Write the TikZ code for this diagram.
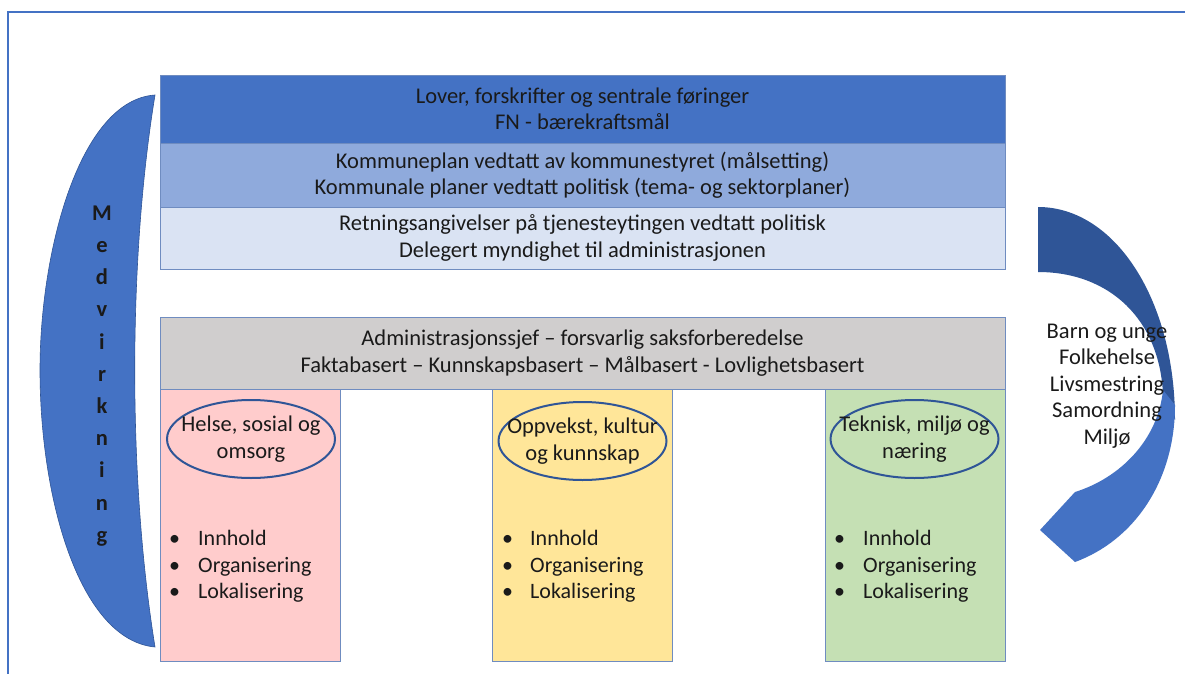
\documentclass[tikz,border=0pt]{standalone}
\usepackage{fontspec}
\setmainfont{Carlito}
\usetikzlibrary{shapes.geometric}
\definecolor{bA}{HTML}{4472C4}
\definecolor{bB}{HTML}{8FAADC}
\definecolor{bC}{HTML}{DAE3F3}
\definecolor{bD}{HTML}{2F5597}
\definecolor{grayb}{HTML}{D0CECE}
\definecolor{pinkb}{HTML}{FFCCCC}
\definecolor{yelb}{HTML}{FFE699}
\definecolor{greb}{HTML}{C5E0B4}
\definecolor{edgeb}{HTML}{6F8CC0}
\definecolor{ink}{HTML}{1A1A1A}
\begin{document}
\begin{tikzpicture}[x=1pt,y=-1pt,
  txt/.style={font=\fontsize{22.5}{26.5}\selectfont, align=center, text=ink},
  band/.style={draw=edgeb, line width=0.8pt, inner sep=0pt, minimum width=845pt, txt},
  col/.style={draw=edgeb, line width=0.8pt, inner sep=0pt, minimum width=180pt, minimum height=272pt},
  ell/.style={ellipse, draw=bD, line width=2pt, inner sep=0pt, minimum width=168pt, minimum height=78pt},
  blist/.style={anchor=west, inner sep=0pt, align=left, text=ink, font=\fontsize{22}{26.5}\selectfont},
  vert/.style={font=\bfseries\fontsize{22.5}{32.2}\selectfont, align=center, inner sep=0pt, text=ink}
]
\useasboundingbox (0,0) rectangle (1185,674);
\fill[white] (0,0) rectangle (1185,674);
% frame
\coordinate (fbl) at (8,674);
\coordinate (ftl) at (8,12);
\coordinate (ftr) at (1186,12);
\draw[bA, line width=1.5pt] (fbl) -- (ftl) -- (ftr);

% top bands
\node[band, fill=bA, minimum height=68pt] (lover) at (582.5,109) {Lover, forskrifter og sentrale føringer\\FN - bærekraftsmål};
\node[band, fill=bB, minimum height=64pt] (plan) at (582.5,175) {Kommuneplan vedtatt av kommunestyret (målsetting)\\Kommunale planer vedtatt politisk (tema- og sektorplaner)};
\node[band, fill=bC, minimum height=62pt] (retn) at (582.5,238) {Retningsangivelser på tjenesteytingen vedtatt politisk\\Delegert myndighet til administrasjonen};

% columns
\node[col, fill=pinkb] (c1) at (250,525) {};
\node[col, fill=yelb] (c2) at (582.5,525) {};
\node[col, fill=greb] (c3) at (915,525) {};

% admin band
\node[band, fill=grayb, minimum height=72pt] (adm) at (582.5,353) {Administrasjonssjef – forsvarlig saksforberedelse\\Faktabasert – Kunnskapsbasert – Målbasert - Lovlighetsbasert};

% ellipses
\node[ell] (e1) at (251,439) {};
\node[ell] (e2) at (582.5,441) {};
\node[ell] (e3) at (914.5,439) {};
\node[txt, inner sep=0pt] (t1) at (e1) {Helse, sosial og\\omsorg};
\node[txt, inner sep=0pt] (t2) at (e2) {Oppvekst, kultur\\og kunnskap};
\node[txt, inner sep=0pt] (t3) at (e3) {Teknisk, miljø og\\næring};

% bullet lists
\node[blist] (l1) at (169,566.5) {\makebox[29pt][l]{\textbullet}Innhold\\\makebox[29pt][l]{\textbullet}Organisering\\\makebox[29pt][l]{\textbullet}Lokalisering};
\node[blist] (l2) at (502,566.5) {\makebox[28pt][l]{\textbullet}Innhold\\\makebox[28pt][l]{\textbullet}Organisering\\\makebox[28pt][l]{\textbullet}Lokalisering};
\node[blist] (l3) at (834,566.5) {\makebox[29pt][l]{\textbullet}Innhold\\\makebox[29pt][l]{\textbullet}Organisering\\\makebox[29pt][l]{\textbullet}Lokalisering};

% left crescent
\fill[bA, draw=bD, line width=0.6pt] (155,95) .. controls (80,100) and (40,250) .. (40,370)
  .. controls (40,500) and (80,640) .. (155,647)
  .. controls (128,480) and (128,260) .. (155,95) -- cycle;
\node[vert] (medv) at (102,376) {M\\e\\d\\v\\i\\r\\k\\n\\i\\n\\g};

% right curved band
\fill[bD] (1038,207) .. controls (1115,207) and (1175,300) .. (1175,420)
  -- (1163,395) .. controls (1160,320) and (1110,272) .. (1038,272) -- cycle;
\fill[bA] (1175,405) .. controls (1175,480) and (1135,540) .. (1075,562)
  -- (1040,530) -- (1075,492) .. controls (1120,478) and (1158,440) .. (1163,390) -- cycle;
\node[txt, inner sep=0pt] (goals) at (1107,386) {Barn og unge\\Folkehelse\\Livsmestring\\Samordning\\Miljø};
\end{tikzpicture}
\end{document}
